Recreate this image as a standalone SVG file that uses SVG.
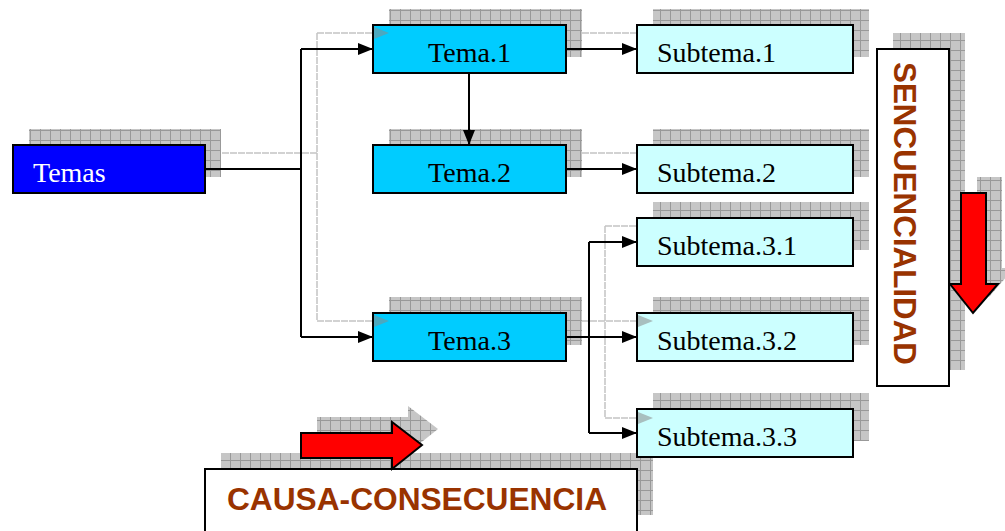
<svg xmlns="http://www.w3.org/2000/svg" width="1005" height="531" viewBox="0 0 1005 531">
<defs>
<pattern id="grid" width="10" height="10" patternUnits="userSpaceOnUse">
<rect width="10" height="10" fill="#c6c6c6"/>
<path d="M0 0.5H10M0.5 0V10" stroke="#999" stroke-width="1"/>
</pattern>
<marker id="arr" markerUnits="userSpaceOnUse" markerWidth="16" markerHeight="13" refX="15" refY="6" orient="auto">
<path d="M0,0 L15,6 L0,12 z" fill="#000"/>
</marker>
<style>
.sh{fill:url(#grid)}
.box{stroke:#000;stroke-width:2}
.temas{fill:#0000ff}
.tema{fill:#00ccff}
.sub{fill:#ccffff}
.plain{fill:#fff}
.lbl{font-family:"Liberation Serif","Times New Roman",serif;font-size:28px;fill:#000}
.big{font-family:"Liberation Sans",Arial,sans-serif;font-weight:bold;font-size:31px;fill:#993300}
.con{fill:none;stroke:#000;stroke-width:2}
.gcon{fill:none;stroke:#c4c4c4;stroke-width:1.5;stroke-dasharray:7 1}
.gah{fill:#8a8a8a;fill-opacity:0.55}
.red{fill:#ff0000;stroke:#000;stroke-width:2}
</style>
</defs>
<rect width="1005" height="531" fill="#fff"/>

<g id="shadows">
<rect class="sh" x="29" y="129" width="192" height="48"/>
<rect class="sh" x="389" y="9" width="193" height="48"/>
<rect class="sh" x="389" y="129" width="193" height="48"/>
<rect class="sh" x="389" y="297" width="193" height="48"/>
<rect class="sh" x="653" y="9" width="216" height="48"/>
<rect class="sh" x="653" y="129" width="216" height="48"/>
<rect class="sh" x="653" y="202" width="216" height="48"/>
<rect class="sh" x="653" y="297" width="216" height="48"/>
<rect class="sh" x="653" y="393" width="216" height="48"/>
<rect class="sh" x="893" y="33" width="72" height="337"/>
<rect class="sh" x="221" y="453" width="432" height="62"/>
<polygon class="sh" points="977,177 1002,177 1002,268 1014,268 989,297 966,268 977,268"/>
<polygon class="sh" points="317,417 408,417 408,406 438,429 408,453 408,442 317,442"/>
</g>

<g id="shadow-connectors">
<path class="gcon" d="M222,153 H317 M317,33 V321 M317,33 H374 M317,321 H374"/>
<path class="gcon" d="M582,33 H637 M582,153 H637"/>
<path class="gcon" d="M582,321 H637 M605,226 V418 M605,226 H637 M605,418 H637"/>
</g>

<g id="node-temas">
<rect class="box temas" x="13" y="145" width="192" height="48"/>
<text class="lbl" x="33" y="182" style="fill:#fff">Temas</text>
</g>
<g id="node-tema1">
<rect class="box tema" x="373" y="25" width="193" height="48"/>
<text class="lbl" x="469.5" y="62" text-anchor="middle">Tema.1</text>
</g>
<g id="node-tema2">
<rect class="box tema" x="373" y="145" width="193" height="48"/>
<text class="lbl" x="469.5" y="182" text-anchor="middle">Tema.2</text>
</g>
<g id="node-tema3">
<rect class="box tema" x="373" y="313" width="193" height="48"/>
<text class="lbl" x="469.5" y="350" text-anchor="middle">Tema.3</text>
</g>
<g id="node-subtema1">
<rect class="box sub" x="637" y="25" width="216" height="48"/>
<text class="lbl" x="657" y="62">Subtema.1</text>
</g>
<g id="node-subtema2">
<rect class="box sub" x="637" y="145" width="216" height="48"/>
<text class="lbl" x="657" y="182">Subtema.2</text>
</g>
<g id="node-subtema31">
<rect class="box sub" x="637" y="218" width="216" height="48"/>
<text class="lbl" x="657" y="255">Subtema.3.1</text>
</g>
<g id="node-subtema32">
<rect class="box sub" x="637" y="313" width="216" height="48"/>
<text class="lbl" x="657" y="350">Subtema.3.2</text>
</g>
<g id="node-subtema33">
<rect class="box sub" x="637" y="409" width="216" height="48"/>
<text class="lbl" x="657" y="446">Subtema.3.3</text>
</g>

<g id="node-secuencialidad">
<rect class="box plain" x="877" y="49" width="72" height="337"/>
<text class="big" transform="translate(894,62) rotate(90)" textLength="303" lengthAdjust="spacingAndGlyphs">SENCUENCIALIDAD</text>
</g>
<g id="node-causa">
<rect class="box plain" x="205" y="469" width="432" height="64"/>
<text class="big" x="227" y="510" textLength="380" lengthAdjust="spacingAndGlyphs">CAUSA-CONSECUENCIA</text>
</g>

<g id="connectors">
<path class="con" d="M205,169 H301"/>
<path class="con" d="M301,49 V337"/>
<path class="con" d="M301,49 H373" marker-end="url(#arr)"/>
<path class="con" d="M301,337 H373" marker-end="url(#arr)"/>
<path class="con" d="M469,73 V145" marker-end="url(#arr)"/>
<path class="con" d="M566,49 H637" marker-end="url(#arr)"/>
<path class="con" d="M566,169 H637" marker-end="url(#arr)"/>
<path class="con" d="M566,337 H589 M589,242 V433"/>
<path class="con" d="M589,242 H637" marker-end="url(#arr)"/>
<path class="con" d="M589,337 H637" marker-end="url(#arr)"/>
<path class="con" d="M589,433 H637" marker-end="url(#arr)"/>
</g>

<g id="shadow-arrowheads">
<polygon class="gah" points="374,27 389,33 374,39"/>
<polygon class="gah" points="374,315 389,321 374,327"/>
<polygon class="gah" points="638,315 653,321 638,327"/>
<polygon class="gah" points="638,412 653,418 638,424"/>
</g>

<g id="red-arrows">
<polygon class="red" points="961,193 986,193 986,284 998,284 973,313 950,284 961,284"/>
<polygon class="red" points="301,433 392,433 392,422 422,445 392,469 392,458 301,458"/>
</g>
</svg>
